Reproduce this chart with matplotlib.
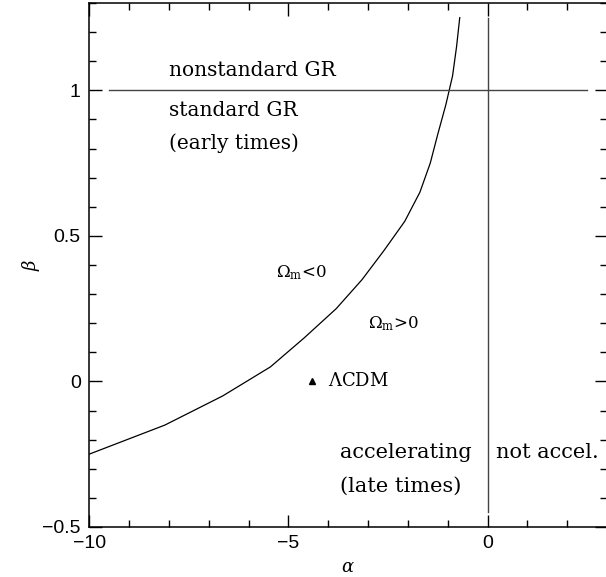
import numpy as np
import matplotlib.pyplot as plt
from matplotlib.ticker import MultipleLocator

# boundary curve (Omega_m = 0)
beta_curve = [-0.25, -0.15, -0.05, 0.05, 0.15, 0.25, 0.35, 0.45,
              0.55, 0.65, 0.75, 0.85, 0.95, 1.05, 1.15, 1.25]
alpha_curve = [-10.0, -8.1, -6.65, -5.45, -4.6, -3.8, -3.15, -2.6,
               -2.08, -1.7, -1.44, -1.25, -1.05, -0.88, -0.78, -0.7]

# LCDM point
lcdm_alpha = [-4.4]
lcdm_beta = [0.0]

# dividing lines
gr_line_alpha = [-9.5, 2.5]
gr_line_beta = [1.0, 1.0]
acc_line_alpha = [0.0, 0.0]
acc_line_beta = [-0.45, 1.25]

plt.rcParams['mathtext.fontset'] = 'dejavuserif'

fig = plt.figure(figsize=(6.06, 5.77), dpi=100)
ax = fig.add_axes([0.147, 0.0867, 0.855, 0.908])

ax.plot(alpha_curve, beta_curve, color='black', lw=0.9)
ax.plot(gr_line_alpha, gr_line_beta, color='#444444', lw=1.0)
ax.plot(acc_line_alpha, acc_line_beta, color='#444444', lw=1.0)
ax.plot(lcdm_alpha, lcdm_beta, marker='^', color='black', ms=5, ls='none')

ax.set_xlim(-10, 3)
ax.set_ylim(-0.5, 1.3)

ax.xaxis.set_major_locator(MultipleLocator(5))
ax.xaxis.set_minor_locator(MultipleLocator(1))
ax.yaxis.set_major_locator(MultipleLocator(0.5))
ax.yaxis.set_minor_locator(MultipleLocator(0.1))
ax.tick_params(which='both', direction='in', top=True, right=True)
ax.tick_params(which='major', length=9, width=1, labelsize=14, pad=6)
ax.tick_params(which='minor', length=5, width=1)
ax.set_xticks([-10, -5, 0])
ax.set_yticks([-0.5, 0, 0.5, 1])
ax.set_xticklabels(['\u221210', '\u22125', '0'])
ax.set_yticklabels(['\u22120.5', '0', '0.5', '1'])
for lab in ax.get_xticklabels() + ax.get_yticklabels():
    lab.set_family('Liberation Sans')
for s in ax.spines.values():
    s.set_linewidth(1.1)

ax.set_xlabel(r'$\alpha$', fontsize=13, labelpad=4)
ax.set_ylabel(r'$\beta$', fontsize=13, labelpad=0)

tkw = dict(family='DejaVu Serif', color='black', va='center', ha='left')
ax.text(-8.0, 1.07, 'nonstandard GR', fontsize=14.5, **tkw)
ax.text(-8.0, 0.93, 'standard GR', fontsize=14.5, **tkw)
ax.text(-8.0, 0.82, '(early times)', fontsize=14.5, **tkw)
ax.text(-5.3, 0.375, r'$\Omega_{\mathrm{m}}$<0', fontsize=12, **tkw)
ax.text(-3.0, 0.2, r'$\Omega_{\mathrm{m}}$>0', fontsize=12, **tkw)
ax.text(-4.0, 0.0, r'$\Lambda$CDM', fontsize=13, **tkw)
ax.text(-3.7, -0.245, 'accelerating', fontsize=15, **tkw)
ax.text(-3.7, -0.36, '(late times)', fontsize=15, **tkw)
ax.text(0.22, -0.245, 'not accel.', fontsize=15, **tkw)

fig.savefig('out.png', dpi=100)
